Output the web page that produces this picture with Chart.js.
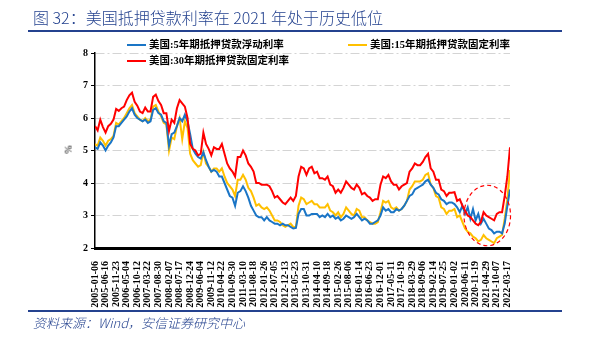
<!DOCTYPE html>
<html>
<head>
<meta charset="utf-8">
<script src="https://cdn.jsdelivr.net/npm/chart.js@4/dist/chart.umd.min.js"></script>
<style>
  body { margin: 0; background: #fff; }
  #wrap { position: relative; width: 590px; height: 341px; overflow: hidden; }
  #myChart { position: absolute; left: 0; top: 0; }
  .title { position: absolute; left: 33px; top: 5px; font: 300 16px "Noto Sans CJK SC", sans-serif; color: #24428f; white-space: nowrap; }
  .rule { position: absolute; left: 28px; width: 534px; background: #24428f; }
  .source { position: absolute; left: 33px; top: 313px; font: italic 300 13px "Noto Sans CJK SC", sans-serif; color: #24428f; white-space: nowrap; }
  .legend { position: absolute; font: bold 10.5px "Liberation Serif", "Noto Sans CJK SC", serif; color: #000; white-space: nowrap; }
  .legend i { display: inline-block; width: 19px; height: 2px; vertical-align: middle; margin-right: 3px; position: relative; top: -1px; }
  .unit { position: absolute; left: 64px; top: 144px; font: 10px "Liberation Serif", serif; transform: rotate(-90deg); }
</style>
</head>
<body>
<div id="wrap">
  <canvas id="myChart" width="590" height="341"></canvas>
  <div class="title">图 32：美国抵押贷款利率在 2021 年处于历史低位</div>
  <div class="rule" style="top:30px;height:2px"></div>
  <div class="rule" style="top:310px;height:1.5px"></div>
  <div class="source">资料来源：Wind，安信证券研究中心</div>
  <div class="legend" style="left:127px;top:36px"><i style="background:#1a75c6"></i>美国:5年期抵押贷款浮动利率</div>
  <div class="legend" style="left:348px;top:36px"><i style="background:#ffc000"></i>美国:15年期抵押贷款固定利率</div>
  <div class="legend" style="left:127px;top:52px"><i style="background:#ff0000"></i>美国:30年期抵押贷款固定利率</div>
  <div class="unit">%</div>
</div>
<script>
// tick dates, one every 23 weeks
const tickLabels = [
  "2005-01-06", "2005-06-16", "2005-11-23", "2006-05-04", "2006-10-12",
  "2007-03-22", "2007-08-30", "2008-02-07", "2008-07-17", "2008-12-24",
  "2009-06-04", "2009-11-12", "2010-04-22", "2010-09-30", "2011-03-10",
  "2011-08-18", "2012-01-26", "2012-07-05", "2012-12-13", "2013-05-23",
  "2013-10-31", "2014-04-10", "2014-09-18", "2015-02-26", "2015-08-06",
  "2016-01-14", "2016-06-23", "2016-12-01", "2017-05-11", "2017-10-19",
  "2018-03-29", "2018-09-06", "2019-02-14", "2019-07-25", "2020-01-02",
  "2020-06-11", "2020-11-19", "2021-04-29", "2021-10-07", "2022-03-17",
];

// values sampled 4 times per tick interval (about every 6 weeks)
const arm5 = [
  5.1, 5.05, 5.25, 5.15, 5.0, 5.15, 5.25, 5.4, 5.75, 5.75,
  5.85, 5.95, 6.05, 6.2, 6.3, 6.1, 6.0, 5.95, 5.9,
  5.95, 5.85, 5.9, 6.25, 6.3, 6.15, 6.1, 5.9, 5.85,
  5.15, 5.5, 5.55, 5.75, 6.0, 5.9, 6.1, 5.9, 5.5,
  5.05, 4.9, 4.8, 4.75, 4.95, 4.7, 4.5, 4.35, 4.4,
  4.35, 4.2, 4.2, 4.0, 3.8, 3.6, 3.55, 3.3, 3.7,
  3.75, 3.9, 3.75, 3.55, 3.3, 3.15, 3.0, 2.95, 2.95,
  2.85, 2.95, 2.85, 2.8, 2.75, 2.75, 2.7, 2.75, 2.7,
  2.7, 2.65, 2.6, 2.62, 3.05, 3.2, 3.2, 3.0, 3.0,
  3.05, 3.05, 3.05, 2.95, 3.0, 2.95, 3.05, 2.95, 3.0,
  2.9, 2.95, 2.85, 2.9, 3.0, 2.95, 2.9, 2.95, 3.05,
  2.95, 2.85, 2.9, 2.85, 2.75, 2.75, 2.8, 2.85, 3.0,
  3.25, 3.15, 3.2, 3.1, 3.1, 3.2, 3.15, 3.2, 3.3,
  3.45, 3.6, 3.65, 3.8, 3.85, 3.9, 3.95, 4.05, 4.1,
  3.95, 3.85, 3.7, 3.65, 3.5, 3.45, 3.35, 3.4, 3.4, 3.35,
  3.25, 3.1, 3.3, 3.05, 3.25, 2.9, 3.2, 2.85, 3.05,
  2.75, 2.9, 2.75, 2.6, 2.55, 2.45, 2.5, 2.5, 2.45,
  2.75, 3.3, 3.8,
];
const fixed15 = [
  5.2, 5.15, 5.4, 5.3, 5.15, 5.3, 5.35, 5.45, 5.85, 5.8,
  5.9, 6.0, 6.15, 6.3, 6.4, 6.15, 6.05, 5.95, 5.9,
  6.0, 5.9, 5.95, 6.35, 6.4, 6.2, 6.05, 5.85, 5.8,
  5.0, 5.4, 5.35, 5.75, 6.0, 5.35, 5.9, 5.7, 4.9,
  4.7, 4.6, 4.5, 4.55, 4.95, 4.6, 4.5, 4.35, 4.45,
  4.45, 4.35, 4.45, 4.2, 4.0, 3.9, 3.8, 3.6, 4.1,
  4.1, 4.25, 4.1, 3.85, 3.75, 3.55, 3.3, 3.35, 3.25,
  3.2, 3.25, 3.15, 3.0, 2.85, 2.85, 2.8, 2.7, 2.65,
  2.7, 2.75, 2.65, 2.65, 3.3, 3.55, 3.5, 3.35, 3.4,
  3.45, 3.35, 3.35, 3.25, 3.25, 3.25, 3.35, 3.15, 3.1,
  3.0, 3.1, 2.95, 3.05, 3.25, 3.15, 3.05, 3.0, 3.2,
  3.15, 2.95, 2.95, 2.85, 2.8, 2.75, 2.75, 2.8, 3.1,
  3.45, 3.4, 3.45, 3.25, 3.2, 3.25, 3.15, 3.2, 3.3,
  3.45, 3.8, 3.9, 4.05, 4.05, 4.05, 4.1, 4.25, 4.3,
  3.95, 3.85, 3.6, 3.55, 3.25, 3.2, 3.05, 3.15, 3.15, 3.2,
  2.95, 3.0, 2.8, 2.6, 2.5, 2.45, 2.35, 2.3, 2.2,
  2.25, 2.4, 2.3, 2.25, 2.2, 2.15, 2.3, 2.35, 2.4,
  2.9, 3.5, 4.4,
];
const fixed30 = [
  5.75, 5.62, 5.95, 5.72, 5.55, 5.75, 5.82, 5.95, 6.28, 6.22,
  6.3, 6.35, 6.55, 6.7, 6.78, 6.5, 6.38, 6.2, 6.15,
  6.32, 6.2, 6.2, 6.65, 6.72, 6.52, 6.4, 6.15, 6.15,
  5.6, 5.95, 5.85, 6.3, 6.55, 6.45, 6.35, 6.0, 5.2,
  5.05, 5.0, 4.85, 4.9, 5.55, 5.2, 5.05, 4.85, 5.1,
  5.05, 5.05, 5.2, 4.9, 4.6, 4.45, 4.35, 4.2, 4.8,
  4.8, 5.0, 4.85, 4.6, 4.5, 4.35, 4.0, 4.0, 3.95,
  3.95, 3.95, 3.9, 3.75, 3.55, 3.6, 3.5, 3.4, 3.35,
  3.45, 3.55, 3.45, 3.6, 4.2, 4.5, 4.45, 4.25, 4.45,
  4.5, 4.3, 4.35, 4.15, 4.15, 4.1, 4.2, 3.95, 3.9,
  3.7, 3.8, 3.7, 3.85, 4.05, 3.95, 3.85, 3.8, 3.95,
  3.85, 3.65, 3.7, 3.6, 3.55, 3.45, 3.5, 3.5, 3.95,
  4.2, 4.15, 4.25, 4.05, 3.95, 3.95, 3.8, 3.9, 3.95,
  4.0, 4.35, 4.45, 4.6, 4.55, 4.55, 4.65, 4.8, 4.9,
  4.45, 4.35, 4.1, 4.1, 3.8, 3.75, 3.6, 3.7, 3.7, 3.72,
  3.45, 3.5, 3.3, 3.15, 3.0, 2.95, 2.85, 2.75, 2.7,
  2.8, 3.1, 3.0, 2.95, 2.9, 2.85, 3.05, 3.1, 3.1,
  3.6, 4.2, 5.1,
];
const yTicks = [2, 3, 4, 5, 6, 7, 8];
const perTick = 4;

const toPoints = (values) => values.map((v, i) => ({ x: i / perTick, y: v }));

// red dashed ring round the 2020-2021 lows
const ringPlugin = {
  id: "ring",
  afterDatasetsDraw(chart) {
    const { ctx, scales: { x, y } } = chart;
    const cx = x.getPixelForValue(37.1);
    const cy = y.getPixelForValue(3.0);
    const rx = x.getPixelForValue(39.3) - cx;
    const ry = y.getPixelForValue(2.07) - cy;
    ctx.save();
    ctx.strokeStyle = "#ff0000";
    ctx.lineWidth = 1.2;
    ctx.setLineDash([4, 3]);
    ctx.beginPath();
    ctx.ellipse(cx, cy, rx, ry, 0, 0, Math.PI * 2);
    ctx.stroke();
    ctx.restore();
  },
};

var ctx = document.getElementById("myChart").getContext("2d");
var myChart = new Chart(ctx, {
  type: "line",
  data: {
    datasets: [
      { label: "美国:30年期抵押贷款固定利率", data: toPoints(fixed30), borderColor: "#ff0000", order: 0 },
      { label: "美国:5年期抵押贷款浮动利率", data: toPoints(arm5), borderColor: "#1a75c6", order: 1 },
      { label: "美国:15年期抵押贷款固定利率", data: toPoints(fixed15), borderColor: "#ffc000", order: 2 },
    ],
  },
  options: {
    responsive: false,
    animation: false,
    layout: { padding: { left: 0, top: 53, right: 80, bottom: 0 } },
    elements: {
      line: { borderWidth: 2, tension: 0 },
      point: { radius: 0 },
    },
    plugins: { legend: { display: false }, tooltip: { enabled: false } },
    scales: {
      x: {
        type: "linear",
        min: 0,
        max: (arm5.length - 1) / perTick,
        afterFit: (scale) => { scale.height = 93; },
        afterBuildTicks: (scale) => {
          scale.ticks = tickLabels.map((_, i) => ({ value: i }));
        },
        grid: { display: false },
        border: { display: true, color: "#000", width: 3 },
        ticks: {
          autoSkip: false,
          maxRotation: 90,
          minRotation: 90,
          padding: 5,
          color: "#000",
          font: { family: "Liberation Serif", size: 10, weight: "bold" },
          callback: (value) => tickLabels[value],
        },
      },
      y: {
        min: 2,
        max: 8,
        afterFit: (scale) => { scale.width = 95; },
        afterBuildTicks: (scale) => {
          scale.ticks = yTicks.map((v) => ({ value: v }));
        },
        grid: { color: "#d4d4d4", lineWidth: 1, tickColor: "#000", tickLength: 4, tickBorderDash: [] },
        border: { color: "#000", width: 1.5, dash: [9, 3, 2, 3] },
        ticks: {
          padding: 3,
          color: "#000",
          font: { family: "Liberation Serif", size: 10, weight: "bold" },
        },
      },
    },
  },
  plugins: [ringPlugin],
});
</script>
</body>
</html>
